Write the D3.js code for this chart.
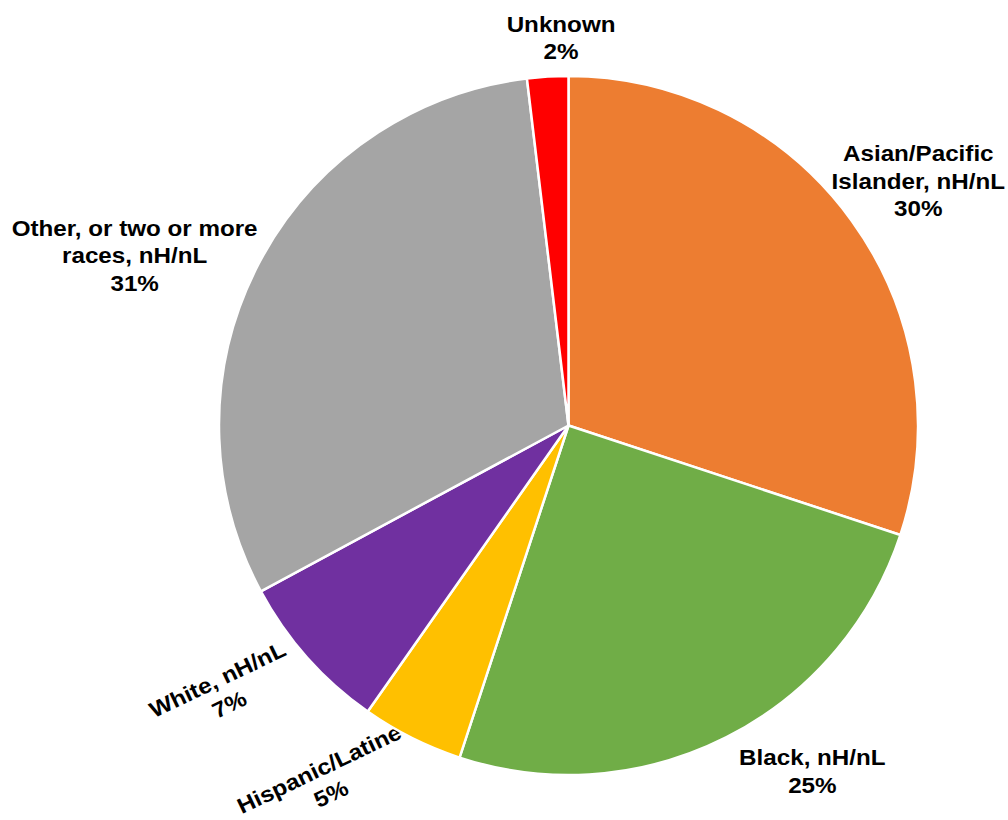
<!DOCTYPE html>
<html>
<head>
<meta charset="utf-8">
<script src="https://cdn.jsdelivr.net/npm/d3@7"></script>
<style>
  html, body { margin: 0; padding: 0; background: #fff; }
  svg { display: block; }
  text { font-family: "Liberation Sans", Arial, sans-serif; font-weight: bold; fill: #000; }
</style>
</head>
<body>
<svg id="chart" width="1008" height="820"></svg>
<script>
// Share of respondents by race/ethnicity (percent), clockwise from 12 o'clock
const categories = [
  "Asian/Pacific Islander, nH/nL",
  "Black, nH/nL",
  "Hispanic/Latine",
  "White, nH/nL",
  "Other, or two or more races, nH/nL",
  "Unknown"
];
const shares = [30.1, 25.0, 4.7, 7.4, 31.0, 1.9];
const sliceColors = ["#ED7D31", "#70AD47", "#FFC000", "#7030A0", "#A5A5A5", "#FF0000"];

// Label text lines (category name wrapped as displayed)
const labelLines = [
  ["Asian/Pacific", "Islander, nH/nL"],
  ["Black, nH/nL"],
  ["Hispanic/Latine"],
  ["White, nH/nL"],
  ["Other, or two or more", "races, nH/nL"],
  ["Unknown"]
];

// Label placement: polar position around the pie centre (angle in degrees clockwise from top,
// distance in px) plus text rotation
const labelPlacement = [
  { angle: 55.0, dist: 427, rotate: 0 },
  { angle: 144.8, dist: 423, rotate: 0 },
  { angle: 214.4, dist: 431, rotate: -25.5 },
  { angle: 232.35, dist: 436, rotate: -25.5 },
  { angle: 291.4, dist: 466, rotate: 0 },
  { angle: 358.9, dist: 388, rotate: 0 }
];

const svg = d3.select("#chart");
const cx = 568.5, cy = 425.5, R = 349.5;
const fontSize = 22, lineH = 27.5, stretchX = 1.1;

const data = categories.map((c, i) => ({ category: c, value: shares[i], color: sliceColors[i], lines: labelLines[i], place: labelPlacement[i] }));

const pie = d3.pie().value(d => d.value).sort(null);
const arc = d3.arc().innerRadius(0).outerRadius(R);
const arcs = pie(data);

// Labels go first so the pie sits on top where they overlap
const labels = svg.append("g").attr("class", "labels");
arcs.forEach(a => {
  const d = a.data;
  const rad = d.place.angle * Math.PI / 180;
  const x = cx + d.place.dist * Math.sin(rad);
  const y = cy - d.place.dist * Math.cos(rad);
  const lines = d.lines.concat([Math.round(d.value) + "%"]);
  const g = labels.append("g")
    .attr("transform", `translate(${x},${y}) rotate(${d.place.rotate}) scale(${stretchX},1)`);
  const t = g.append("text").attr("text-anchor", "middle").attr("font-size", fontSize);
  const n = lines.length;
  lines.forEach((ln, i) => {
    t.append("tspan")
      .attr("x", 0)
      .attr("y", (i - (n - 1) / 2) * lineH + fontSize * 0.36)
      .text(ln);
  });
});

const pieG = svg.append("g").attr("transform", `translate(${cx},${cy})`);
pieG.selectAll("path")
  .data(arcs)
  .join("path")
  .attr("d", arc)
  .attr("fill", d => d.data.color)
  .attr("stroke", "#fff")
  .attr("stroke-width", 2.5)
  .attr("stroke-linejoin", "round");
</script>
</body>
</html>
